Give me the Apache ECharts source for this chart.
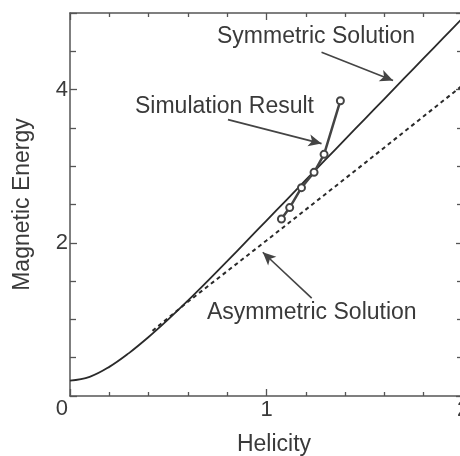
<!DOCTYPE html>
<html>
<head>
<meta charset="utf-8">
<script src="https://cdn.jsdelivr.net/npm/echarts@6/dist/echarts.min.js"></script>
<style>
  html, body { margin: 0; padding: 0; background: #fff; }
  #chart { width: 460px; height: 456px; }
</style>
</head>
<body>
<div id="chart"></div>
<script>
// symmetric solution (solid curve)
const symH = [0, 0.1, 0.2, 0.3, 0.4, 0.5, 0.6, 0.7, 0.8, 0.9, 1.0, 1.1, 1.2, 1.3, 1.4, 1.5, 1.6, 1.7, 1.8, 1.9, 2.0]
const symE = [0.20, 0.25, 0.38, 0.56, 0.77, 1.0, 1.245, 1.50, 1.76, 2.025, 2.29, 2.555, 2.82, 3.085, 3.35, 3.615, 3.88, 4.145, 4.41, 4.675, 4.94]

// asymmetric solution (dashed line)
const asymH = [0.42, 0.6, 0.8, 1.0, 1.5, 2.0]
const asymE = [0.85, 1.23, 1.63, 2.03, 3.04, 4.06]

// simulation result (open circles)
const simH = [1.076, 1.118, 1.178, 1.242, 1.293, 1.376]
const simE = [2.31, 2.46, 2.72, 2.92, 3.155, 3.855]

// annotation arrows: [fromH, fromE, toH, toE]
const arrows = [
  [1.280, 4.489, 1.644, 4.120],
  [0.804, 3.608, 1.280, 3.295],
  [1.230, 1.278, 0.981, 1.877]
]

const xTicks = [0, 1, 2]
const yTicks = [0, 2, 4]

const FONT = '"Liberation Sans", Arial, Helvetica, sans-serif'
const INK = '#2a2a2a'
const TXT = '#3a3a3a'

const zip = (a, b) => a.map((v, i) => [v, b[i]])

const chart = echarts.init(document.getElementById('chart'))

const tickStyle = { color: '#555', width: 1.3 }

const baseX = {
  type: 'value',
  min: 0,
  max: 2,
  interval: 1,
  axisLine: { onZero: false, lineStyle: { color: '#555', width: 1.5 } },
  axisTick: { inside: true, length: 7, lineStyle: tickStyle },
  minorTick: { show: true, splitNumber: 5, length: 4, lineStyle: tickStyle },
  splitLine: { show: false }
}
const baseY = {
  type: 'value',
  min: 0,
  max: 5,
  interval: 2,
  axisLine: { onZero: false, lineStyle: { color: '#555', width: 1.5 } },
  axisTick: { inside: true, length: 7, lineStyle: tickStyle },
  minorTick: { show: true, splitNumber: 4, length: 6, lineStyle: tickStyle },
  splitLine: { show: false }
}

const option = {
  backgroundColor: '#fff',
  animation: false,
  grid: { left: 70, right: -3, top: 13, bottom: 60, outerBoundsMode: 'none', containLabel: false },
  xAxis: [
    Object.assign({}, baseX, {
      position: 'bottom',
      name: 'Helicity',
      nameLocation: 'middle',
      nameGap: 37,
      nameTextStyle: { fontFamily: FONT, fontSize: 23, color: TXT, padding: [0, 0, 0, 15] },
      axisLabel: {
        margin: 3,
        fontFamily: FONT,
        fontSize: 22,
        color: TXT,
        formatter: v => (xTicks.includes(v) && v !== 0 ? String(v) : '')
      }
    }),
    Object.assign({}, baseX, { position: 'top', axisLabel: { show: false } })
  ],
  yAxis: [
    Object.assign({}, baseY, {
      position: 'left',
      name: 'Magnetic Energy',
      nameLocation: 'middle',
      nameGap: 36,
      nameTextStyle: { fontFamily: FONT, fontSize: 23, color: TXT },
      axisLabel: {
        margin: 2,
        fontFamily: FONT,
        fontSize: 22,
        color: TXT,
        formatter: v => (v === 0 ? '{z|0}' : yTicks.includes(v) ? String(v) : ''),
        rich: { z: { fontFamily: FONT, fontSize: 22, color: TXT, padding: [26, 0, 0, 0] } }
      }
    }),
    Object.assign({}, baseY, { position: 'right', axisLabel: { show: false } })
  ],
  graphic: [
    { type: 'text', x: 217, y: 37, style: { text: 'Symmetric Solution', font: '23px ' + FONT, fill: TXT, verticalAlign: 'middle' } },
    { type: 'text', x: 135, y: 107, style: { text: 'Simulation Result', font: '23px ' + FONT, fill: TXT, verticalAlign: 'middle' } },
    { type: 'text', x: 207, y: 313, style: { text: 'Asymmetric Solution', font: '23px ' + FONT, fill: TXT, verticalAlign: 'middle' } }
  ],
  series: [
    {
      name: 'Symmetric Solution',
      type: 'line',
      smooth: 0.4,
      showSymbol: false,
      data: zip(symH, symE),
      lineStyle: { color: INK, width: 1.8 },
      z: 2
    },
    {
      name: 'Asymmetric Solution',
      type: 'line',
      showSymbol: false,
      data: zip(asymH, asymE),
      lineStyle: { color: INK, width: 2, type: [4, 3.5] },
      z: 2
    },
    {
      name: 'Simulation Result',
      type: 'line',
      data: zip(simH, simE),
      symbol: 'emptyCircle',
      symbolSize: 7,
      itemStyle: { color: '#444', borderWidth: 2 },
      lineStyle: { color: '#444', width: 2.5 },
      z: 3,
      markLine: {
        silent: true,
        animation: false,
        symbol: ['none', 'arrow'],
        symbolSize: [9, 13],
        label: { show: false },
        lineStyle: { color: '#444', width: 1.6, type: 'solid' },
        data: arrows.map(a => [{ coord: [a[0], a[1]] }, { coord: [a[2], a[3]] }])
      }
    }
  ]
}

chart.setOption(option)
</script>
</body>
</html>
